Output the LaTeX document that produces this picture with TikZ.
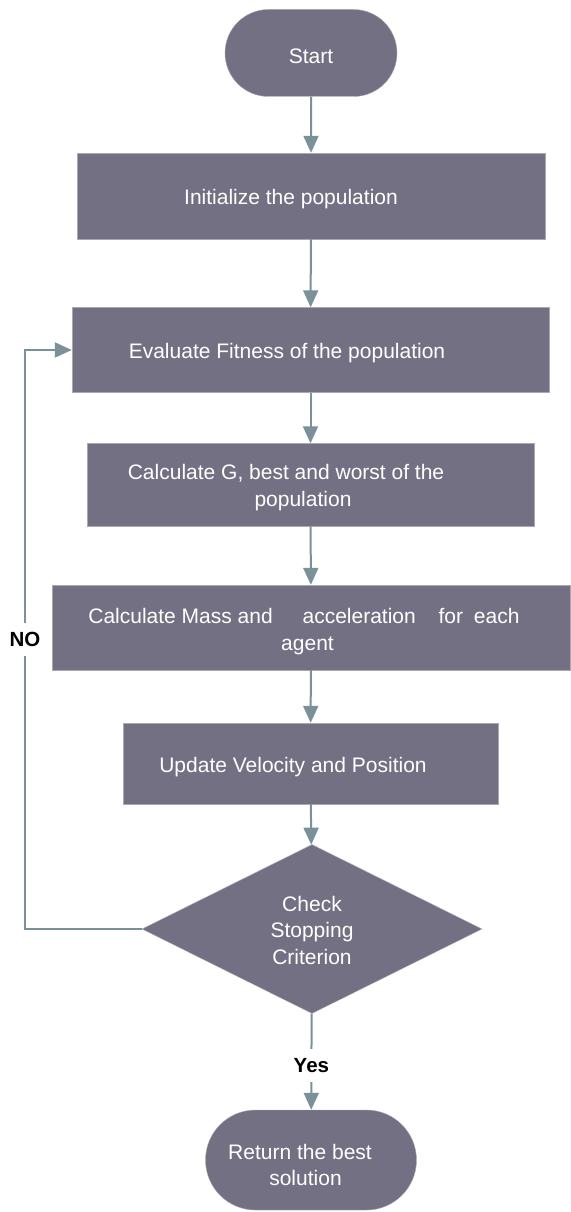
\documentclass[tikz,border=0pt]{standalone}
\usepackage{fontspec}
\setmainfont{Liberation Sans}
\usetikzlibrary{shapes.misc,shapes.geometric,arrows.meta}
\definecolor{boxfill}{HTML}{747083}
\definecolor{boxline}{HTML}{A9A8B0}
\definecolor{arrowcol}{HTML}{7B9199}

\begin{document}
\begin{tikzpicture}[x=1pt,y=-1pt,
		drop/.style={execute at begin node={\rule{0pt}{#1}}},
		box/.style={rectangle,draw=boxline,fill=boxfill,text=white,align=center,inner sep=0pt,font=\fontsize{21}{26.5}\selectfont,drop=21.5pt},
		term/.style={box,rounded rectangle},
		decision/.style={box,diamond,aspect=2},
		arr/.style={draw=arrowcol,line width=2pt,-{Triangle[length=17pt,width=15pt]}},
		lbl/.style={fill=white,inner xsep=2pt,inner ysep=9pt,font=\fontsize{20.5}{24}\selectfont\bfseries}]
		\useasboundingbox (0,0) rectangle (570,1212);
		\node [term,minimum width=172pt,minimum height=87pt] (start) at (311,53) {Start};
		\node [box,minimum width=468pt,minimum height=86pt] (init) at (311,196) {Initialize the population\hspace*{40pt}};
		\node [box,minimum width=477pt,minimum height=85pt] (eval) at (310.5,350) {Evaluate Fitness of the population\hspace*{47pt}};
		\node [box,drop=46.5pt,minimum width=447pt,minimum height=83pt] (calcg) at (310.5,485) {Calculate G, best and worst of the\hspace*{49pt}\\population\hspace*{15pt}};
		\node [box,drop=49.5pt,minimum width=518pt,minimum height=85pt] (mass) at (311,627.5) {Calculate Mass and\hspace{24pt} acceleration\hspace{17pt} for\hspace{5pt} each\hspace*{14pt}\\agent\hspace*{7pt}};
		\node [box,minimum width=375pt,minimum height=81pt] (update) at (310.5,763.5) {Update Velocity and Position\hspace*{35pt}};
		\node [decision,drop=71pt,minimum width=340pt,minimum height=169pt] (check) at (312,929) {Check\\Stopping\\Criterion};
		\node [term,drop=51.5pt,minimum width=211pt,minimum height=100pt] (ret) at (311,1160) {Return the best\hspace*{22pt}\\solution\hspace*{11pt}};
		\coordinate (nocorner) at (25,929);

		\draw [arr] (start) -- (init);
		\draw [arr] (init) -- (eval);
		\draw [arr] (eval) -- (calcg);
		\draw [arr] (calcg) -- (mass);
		\draw [arr] (mass) -- (update);
		\draw [arr] (update) -- (check);
		\draw [arr] (check) -- node [lbl,pos=0.54] {Yes} (ret);
		\draw [arr] (check.west) -- (nocorner) |- node [lbl,pos=0.25] {NO} (eval.west);
\end{tikzpicture}
\end{document}
